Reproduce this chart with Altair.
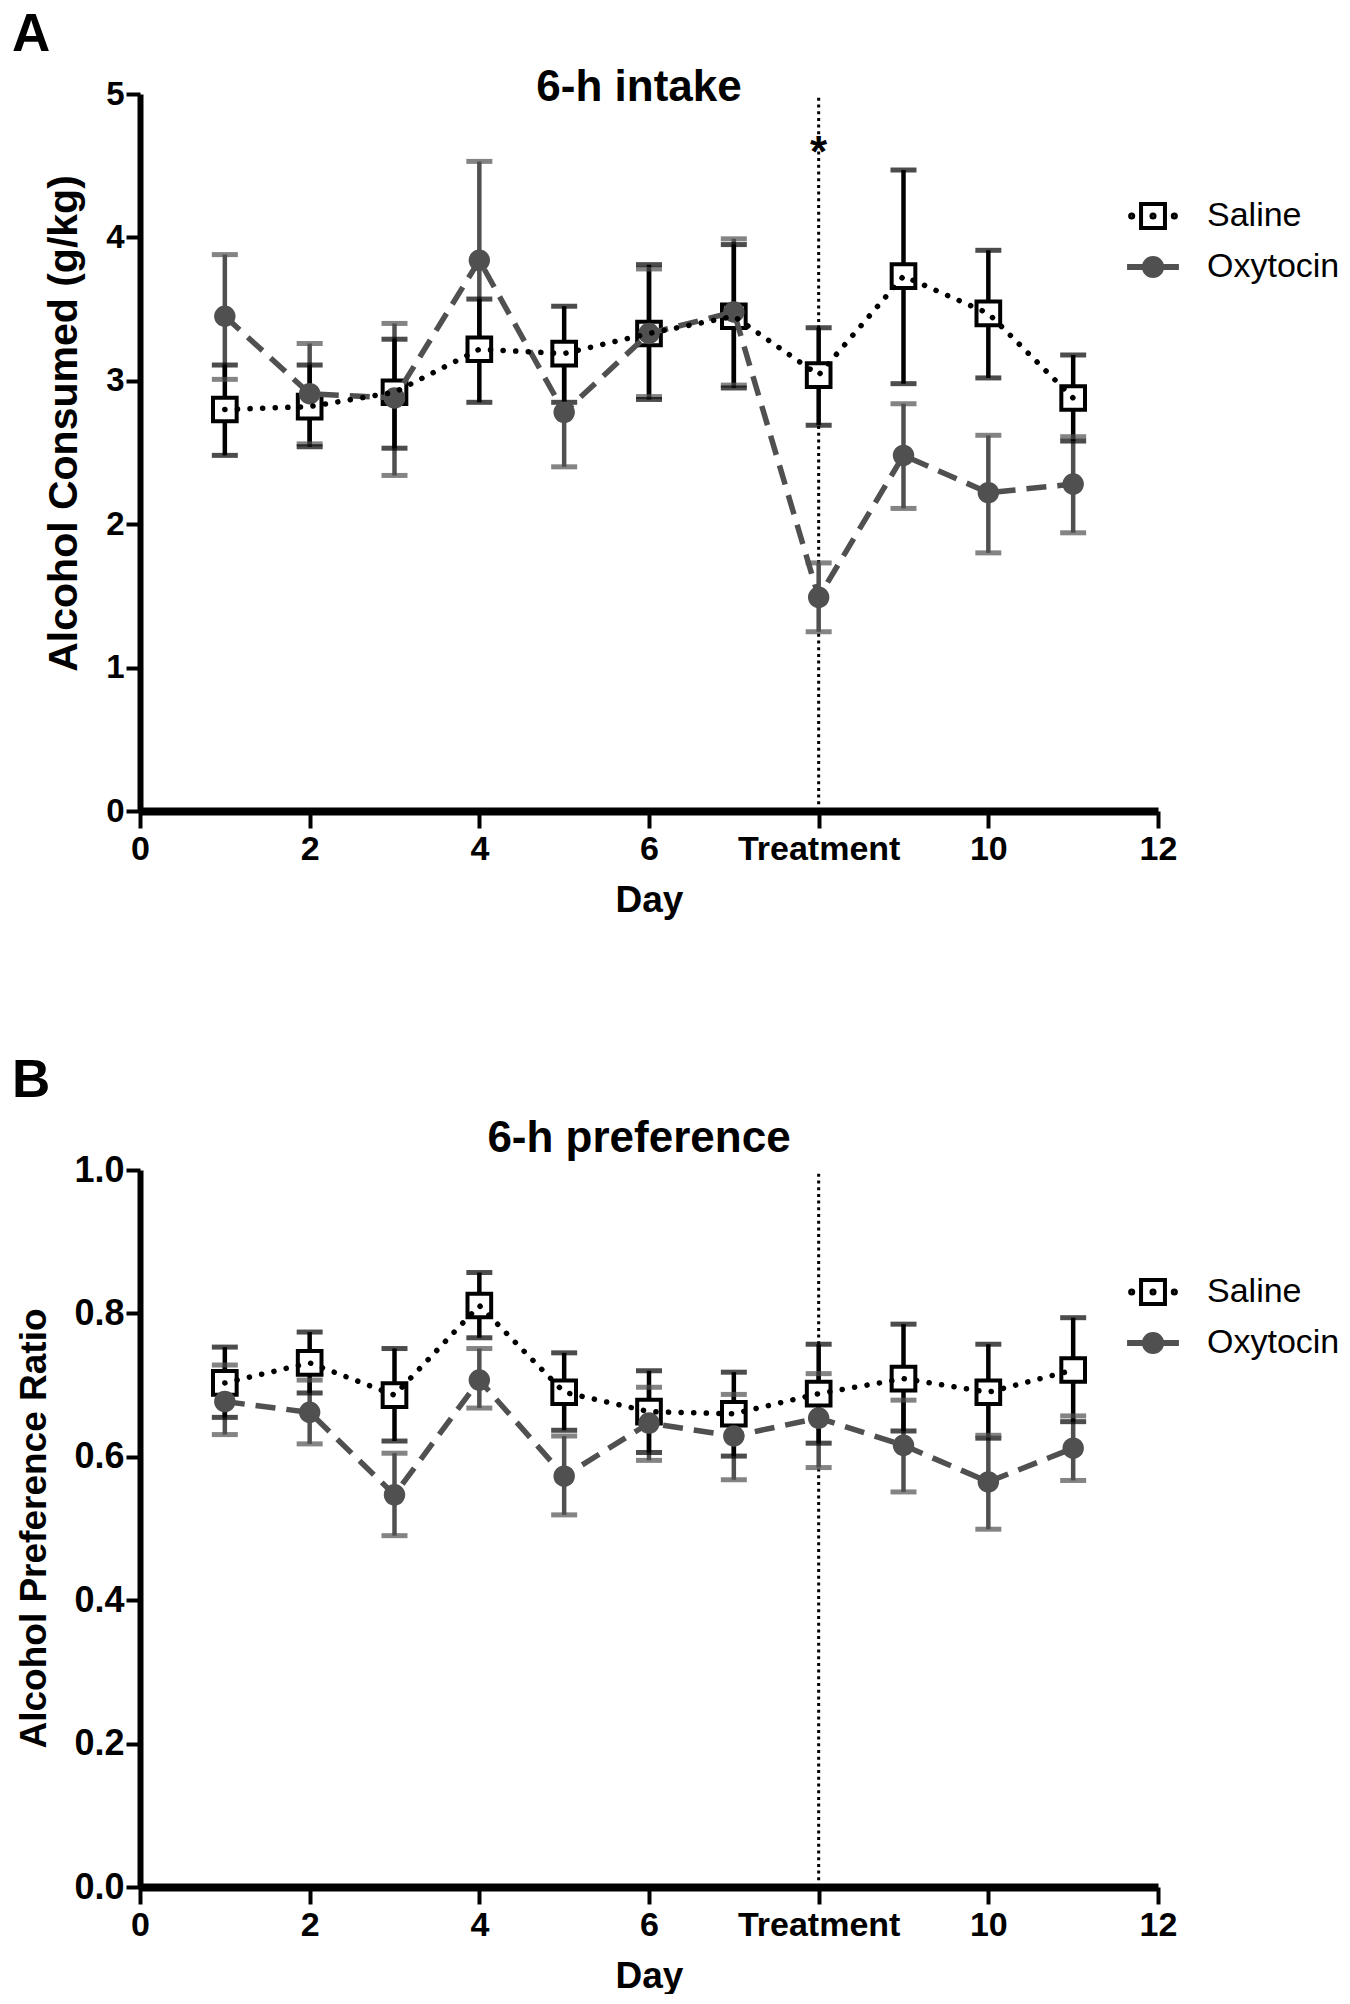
import altair as alt
import pandas as pd

# ---------------- data ----------------
days = list(range(1, 12))
groups = ["Saline", "Oxytocin"]

a_saline_mean  = [2.80, 2.82, 2.92, 3.22, 3.19, 3.33, 3.45, 3.04, 3.73, 3.47, 2.88]
a_saline_upper = [3.11, 3.11, 3.29, 3.57, 3.52, 3.81, 3.95, 3.37, 4.47, 3.91, 3.18]
a_saline_lower = [2.48, 2.54, 2.53, 2.85, 2.85, 2.87, 2.95, 2.69, 2.98, 3.02, 2.58]
a_oxy_mean  = [3.45, 2.91, 2.88, 3.84, 2.78, 3.33, 3.48, 1.49, 2.48, 2.22, 2.28]
a_oxy_upper = [3.88, 3.26, 3.40, 4.53, 3.16, 3.78, 3.99, 1.73, 2.84, 2.62, 2.61]
a_oxy_lower = [3.01, 2.56, 2.34, 3.15, 2.40, 2.89, 2.97, 1.25, 2.11, 1.80, 1.94]

b_saline_mean  = [0.703, 0.731, 0.686, 0.811, 0.690, 0.663, 0.660, 0.688, 0.709, 0.690, 0.721]
b_saline_upper = [0.753, 0.774, 0.751, 0.857, 0.745, 0.720, 0.718, 0.757, 0.785, 0.757, 0.794]
b_saline_lower = [0.655, 0.689, 0.622, 0.766, 0.637, 0.606, 0.601, 0.619, 0.636, 0.626, 0.649]
b_oxy_mean  = [0.677, 0.662, 0.547, 0.707, 0.573, 0.647, 0.629, 0.654, 0.616, 0.565, 0.612]
b_oxy_upper = [0.728, 0.707, 0.605, 0.751, 0.629, 0.697, 0.687, 0.716, 0.679, 0.630, 0.657]
b_oxy_lower = [0.631, 0.618, 0.490, 0.668, 0.519, 0.595, 0.568, 0.585, 0.551, 0.499, 0.567]

x_ticks = [0, 2, 4, 6, 8, 10, 12]
treatment_day = 8
a_y_ticks = [0, 1, 2, 3, 4, 5]
b_y_ticks = [0.0, 0.2, 0.4, 0.6, 0.8, 1.0]
star_day = [8]
star_y = [4.58]

# ---------------- style ----------------
FONT = "Liberation Sans"
GRAY = "#505050"
W, H = 1018, 717

SAL_PATH = ("M-0.46,-0.46L0.46,-0.46L0.46,0.46L-0.46,0.46Z "
            "M-0.88,0A0.06,0.06,0,1,1,-0.76,0A0.06,0.06,0,1,1,-0.88,0Z "
            "M-0.06,0A0.06,0.06,0,1,1,0.06,0A0.06,0.06,0,1,1,-0.06,0Z "
            "M0.76,0A0.06,0.06,0,1,1,0.88,0A0.06,0.06,0,1,1,0.76,0Z")
OXY_PATH = ("M-0.35,0A0.35,0.35,0,1,1,0.35,0A0.35,0.35,0,1,1,-0.35,0Z "
            "M-0.92,-0.04L-0.3,-0.04L-0.3,0.04L-0.92,0.04Z "
            "M0.3,-0.04L0.92,-0.04L0.92,0.04L0.3,0.04Z")


def make_df(sm, slo, shi, om, olo, ohi):
    rows = []
    for i, d in enumerate(days):
        rows.append({"day": d, "group": "Saline", "ord": 0,
                     "mean": sm[i], "lower": slo[i], "upper": shi[i]})
    for i, d in enumerate(days):
        rows.append({"day": d, "group": "Oxytocin", "ord": 1,
                     "mean": om[i], "lower": olo[i], "upper": ohi[i]})
    return pd.DataFrame(rows)


def panel(df, ymax, yvals, yfmt, ytitle, ytitle_size, ytitle_y, ylab_size,
          title_text, title_y, letter, letter_y, star):
    xaxis = alt.Axis(values=x_ticks,
                     labelExpr=f"datum.value == {treatment_day} ? 'Treatment' : datum.label",
                     title="Day", grid=False, domainWidth=8, domainColor="black",
                     tickColor="black", tickWidth=4, tickSize=17,
                     labelFont=FONT, labelFontWeight="bold", labelFontSize=34,
                     labelColor="black", labelPadding=4, labelFlush=False,
                     labelOverlap=False,
                     titleFont=FONT, titleFontSize=37, titleFontWeight="bold",
                     titleColor="black", titlePadding=16)
    yaxis = alt.Axis(values=yvals, format=yfmt, title=ytitle, grid=False,
                     domainWidth=6, domainColor="black", tickColor="black",
                     tickWidth=4, tickSize=14, labelFont=FONT,
                     labelFontWeight="bold", labelFontSize=ylab_size,
                     labelColor="black", labelPadding=2, labelFlush=False,
                     labelOverlap=False,
                     titleFont=FONT, titleFontSize=ytitle_size,
                     titleFontWeight="bold", titleColor="black",
                     titlePadding=20, titleY=ytitle_y)
    xscale = alt.Scale(domain=[0, 12], nice=False, zero=False)
    yscale = alt.Scale(domain=[0, ymax], nice=False, zero=True)

    def X(f="day:Q"):
        return alt.X(f, scale=xscale, axis=xaxis)

    def Y(f):
        return alt.Y(f, scale=yscale, axis=yaxis)

    col = alt.Color("group:N", scale=alt.Scale(domain=groups, range=["black", GRAY]),
                    legend=None)
    base = alt.Chart(df)
    err_order = alt.Order("ord:Q", sort="descending")

    bars = base.mark_rule(strokeWidth=4.5).encode(
        x=X(), y=Y("lower:Q"), y2=alt.Y2("upper:Q"), color=col, order=err_order)
    cap_lo = base.mark_tick(orient="horizontal", size=26, thickness=5).encode(
        x=X(), y=Y("lower:Q"), color=col, order=err_order)
    cap_hi = base.mark_tick(orient="horizontal", size=26, thickness=5).encode(
        x=X(), y=Y("upper:Q"), color=col, order=err_order)

    sal = base.transform_filter(alt.datum.group == "Saline")
    oxy = base.transform_filter(alt.datum.group == "Oxytocin")

    oxy_line = oxy.mark_line(color=GRAY, strokeWidth=5.5, strokeDash=[20, 11]).encode(
        x=X(), y=Y("mean:Q"))
    sal_line = sal.mark_line(color="black", strokeWidth=5.5, strokeDash=[0.1, 12.5],
                             strokeCap="round").encode(x=X(), y=Y("mean:Q"))
    sal_pts = sal.mark_point(shape="square", size=560, filled=False, fill="white",
                             stroke="black", strokeWidth=4, opacity=1).encode(
        x=X(), y=Y("mean:Q"))
    oxy_pts = oxy.mark_point(shape="circle", size=460, filled=True, color=GRAY,
                             opacity=1).encode(x=X(), y=Y("mean:Q"))

    legend = alt.Legend(
        title=None, orient="none", legendX=985, legendY=94, padding=0,
        symbolSize=2704, symbolStrokeWidth=4, rowPadding=3, labelOffset=26,
        labelLimit=500, labelFont=FONT, labelFontSize=34, labelColor="black",
        labelFontWeight="normal", symbolOpacity=1)
    legend_layer = base.transform_filter("false").mark_point(
        filled=False, opacity=1, strokeWidth=4).encode(
        x=X(), y=Y("mean:Q"),
        shape=alt.Shape("group:N", scale=alt.Scale(domain=groups, range=[SAL_PATH, OXY_PATH]),
                        legend=legend),
        fill=alt.Fill("group:N", scale=alt.Scale(domain=groups, range=["white", GRAY]),
                      legend=legend),
        stroke=alt.Stroke("group:N", scale=alt.Scale(domain=groups, range=["black", GRAY]),
                          legend=legend),
    )

    rule_df = pd.DataFrame({"day": [treatment_day], "y0": [0], "y1": [ymax]})
    vline = alt.Chart(rule_df).mark_rule(color="black", strokeWidth=3,
                                         strokeDash=[3, 3.7]).encode(
        x=X(), y=Y("y0:Q"), y2=alt.Y2("y1:Q"))

    title_df = pd.DataFrame({"t": [title_text]})
    title = alt.Chart(title_df).mark_text(
        font=FONT, fontSize=44, fontWeight="bold", color="black",
        align="center", baseline="alphabetic").encode(
        text="t:N", x=alt.value(499), y=alt.value(title_y))
    letter_df = pd.DataFrame({"t": [letter]})
    letter_mark = alt.Chart(letter_df).mark_text(
        font=FONT, fontSize=53, fontWeight="bold", color="black",
        align="left", baseline="alphabetic").encode(
        text="t:N", x=alt.value(-128), y=alt.value(letter_y))

    layers = [vline, bars, cap_lo, cap_hi, sal_pts, oxy_line, oxy_pts, sal_line,
              legend_layer, title, letter_mark]
    if star:
        star_df = pd.DataFrame({"day": star_day, "y": star_y, "t": ["*"]})
        star_mark = alt.Chart(star_df).mark_text(
            font=FONT, fontSize=44, fontWeight="bold", color="black",
            align="center", baseline="middle").encode(
            x=X(), y=Y("y:Q"), text="t:N")
        layers.append(star_mark)
    return alt.layer(*layers).properties(width=W, height=H)


df_a = make_df(a_saline_mean, a_saline_lower, a_saline_upper,
               a_oxy_mean, a_oxy_lower, a_oxy_upper)
df_b = make_df(b_saline_mean, b_saline_lower, b_saline_upper,
               b_oxy_mean, b_oxy_lower, b_oxy_upper)

chart_a = panel(df_a, 5, a_y_ticks, "d", "Alcohol Consumed (g/kg)", 41, 329, 33,
                "6-h intake", 7, "A", -43, True)
chart_b = panel(df_b, 1, b_y_ticks, ".1f", "Alcohol Preference Ratio", 37, 358, 36,
                "6-h preference", -18, "B", -73, False)

chart = alt.vconcat(chart_a, chart_b, spacing=137).resolve_scale(
    shape="independent", fill="independent", stroke="independent"
).properties(
    padding={"left": 4, "top": 1, "right": 0, "bottom": 0}
).configure(background="white").configure_view(stroke=None)

chart.save("out.html", embed_options={"renderer": "svg", "actions": False})
